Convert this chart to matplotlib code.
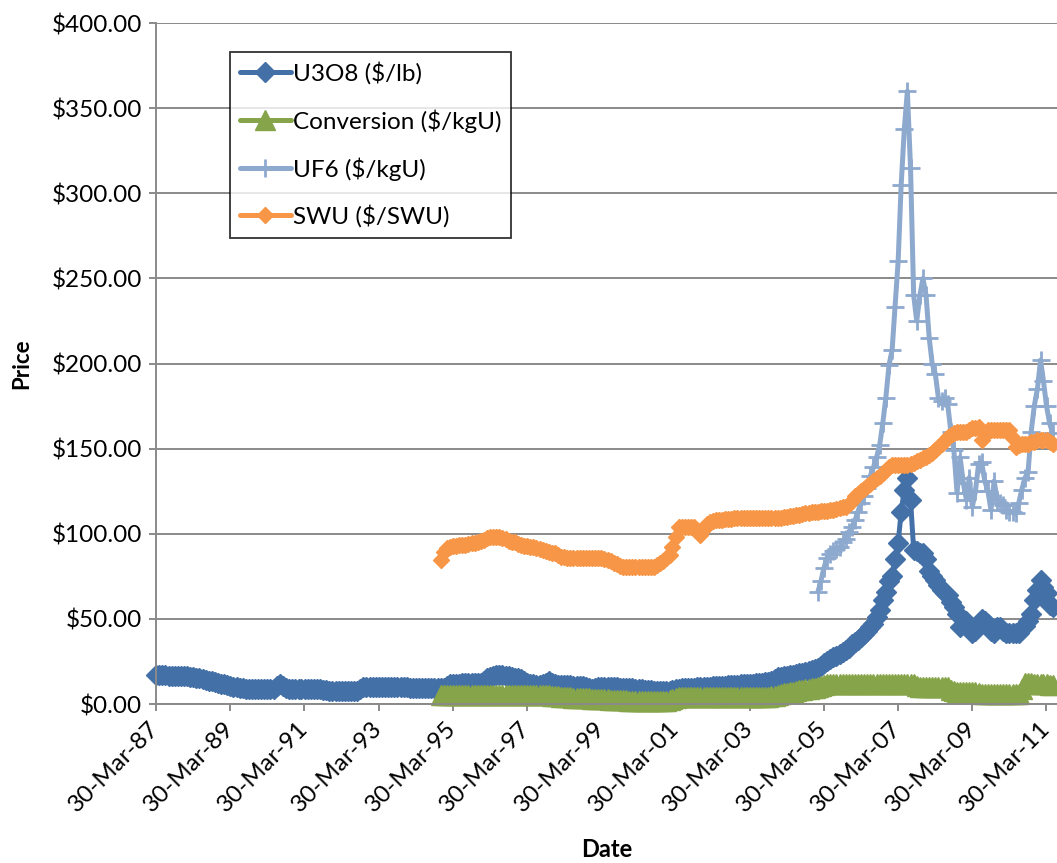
import numpy as np
import pandas as pd
import matplotlib
matplotlib.use("Agg")
import matplotlib.pyplot as plt
import matplotlib.dates as mdates
from matplotlib.ticker import FuncFormatter, MultipleLocator
from matplotlib.transforms import ScaledTranslation

plt.rcParams['font.family'] = ['Lato', 'DejaVu Sans']

# monthly prices, month-end values
u3o8_start = "1987-03-31"
u3o8 = [
    17.0, 17.0, 16.9, 16.8, 16.7, 16.6, 16.6, 16.5, 16.5, 16.4,                    # 1987 (Mar-Dec)
    16.2, 16.0, 15.8, 15.5, 15.2, 14.8, 14.3, 13.8, 13.3, 12.8, 12.4, 12.0,        # 1988
    11.5, 11.0, 10.5, 10.1, 9.8, 9.5, 9.3, 9.1, 9.0, 9.0, 9.0, 9.0,                # 1989
    9.0, 9.0, 9.0, 9.0, 9.1, 10.5, 11.9, 10.5, 9.2, 9.0, 9.0, 9.0,                 # 1990
    9.0, 9.0, 9.0, 9.0, 9.0, 9.0, 9.0, 8.8, 8.5, 8.0, 7.8, 7.8,                    # 1991
    7.8, 7.8, 7.8, 7.8, 7.8, 7.8, 7.8, 7.8, 9.0, 10.0, 10.0, 10.0,                 # 1992
    10.0, 10.1, 10.2, 10.1, 10.0, 10.0, 10.1, 10.2, 10.2, 10.0, 9.9, 9.8,          # 1993
    9.7, 9.6, 9.6, 9.5, 9.5, 9.4, 9.4, 9.3, 9.3, 9.2, 9.2, 9.4,                    # 1994
    10.5, 11.5, 11.9, 12.0, 12.0, 12.1, 12.2, 12.3, 12.4, 12.5, 12.5, 12.6,        # 1995
    13.5, 15.0, 16.0, 16.5, 16.8, 17.0, 17.0, 16.7, 16.3, 15.9, 15.5, 15.1,        # 1996
    14.5, 13.5, 12.5, 12.0, 11.5, 11.2, 11.0, 11.5, 12.5, 13.3, 12.5, 11.8,        # 1997
    11.2, 11.0, 11.0, 11.0, 10.9, 10.8, 10.7, 10.5, 10.3, 10.0, 9.6, 8.6,          # 1998
    9.5, 10.2, 10.2, 10.1, 10.0, 10.0, 9.9, 9.8, 9.7, 9.6, 9.5, 9.4,               # 1999
    9.2, 9.0, 8.8, 8.6, 8.4, 8.2, 8.0, 7.8, 7.6, 7.5, 7.4, 7.5,                    # 2000
    7.8, 8.2, 8.6, 9.0, 9.2, 9.4, 9.5, 9.6, 9.7, 9.8, 9.9, 10.0,                   # 2001
    10.1, 10.2, 10.3, 10.4, 10.5, 10.6, 10.7, 10.9, 11.0, 11.2, 11.4, 11.6,        # 2002
    11.7, 11.8, 11.9, 12.0, 12.2, 12.4, 12.6, 12.8, 13.1, 13.5, 14.5, 15.7,        # 2003
    16.0, 16.3, 16.6, 17.0, 17.3, 17.6, 18.0, 18.5, 19.0, 19.5, 20.0, 20.5,        # 2004
    21.0, 22.5, 24.0, 25.4, 26.5, 27.5, 28.5, 29.5, 30.5, 31.7, 33.0, 35.0,        # 2005
    36.5, 37.6, 39.5, 41.0, 43.0, 45.4, 47.0, 51.0, 55.0, 61.0, 66.0, 72.0,        # 2006
    75.0, 85.0, 94.5, 113.0, 126.0, 133.0, 120.0, 90.5, 90.0, 89.0, 88.5, 85.0,    # 2007
    78.0, 75.0, 73.0, 70.0, 67.0, 65.0, 64.0, 60.0, 57.0, 53.0, 45.0, 50.0,        # 2008
    49.0, 45.0, 42.0, 43.0, 47.0, 50.0, 49.0, 47.0, 43.0, 42.0, 45.0, 45.0,        # 2009
    43.0, 42.0, 41.5, 41.5, 41.5, 42.0, 44.6, 46.0, 49.0, 53.0, 61.0, 67.0,        # 2010
    73.0, 69.0, 65.0, 58.0, 57.0,                                                  # 2011 (Jan-May)
]

conv_start = "1994-11-30"
conversion = [
    5.5, 5.5,                                                                      # 1994 (Nov-Dec)
    5.5, 5.5, 5.5, 5.5, 5.5, 5.5, 5.5, 5.5, 5.5, 5.5, 5.5, 5.5,                    # 1995
    5.5, 5.5, 5.5, 5.5, 5.5, 5.5, 5.5, 5.5, 5.5, 5.5, 5.5, 5.5,                    # 1996
    5.5, 5.5, 5.5, 5.5, 5.5, 5.5, 5.5, 5.5, 5.5, 5.3, 5.0, 4.7,                    # 1997
    4.5, 4.3, 4.1, 4.0, 3.9, 3.8, 3.7, 3.6, 3.5, 3.4, 3.3, 3.2,                    # 1998
    3.1, 3.0, 2.9, 2.8, 2.7, 2.6, 2.5, 2.4, 2.3, 2.2, 2.1, 2.0,                    # 1999
    2.0, 2.0, 2.0, 2.0, 2.0, 2.0, 2.0, 2.0, 2.0, 2.0, 2.0, 2.0,                    # 2000
    2.2, 2.8, 3.5, 4.0, 4.3, 4.3, 4.3, 4.3, 4.3, 4.3, 4.3, 4.3,                    # 2001
    4.3, 4.3, 4.3, 4.3, 4.3, 4.3, 4.3, 4.3, 4.3, 4.3, 4.3, 4.3,                    # 2002
    4.3, 4.3, 4.3, 4.3, 4.3, 4.3, 4.3, 4.3, 4.3, 4.6, 5.0, 5.5,                    # 2003
    6.0, 6.3, 6.6, 7.0, 7.3, 7.6, 8.0, 8.3, 8.6, 9.0, 9.3, 9.6,                    # 2004
    10.0, 10.5, 11.3, 11.5, 11.5, 11.5, 11.5, 11.5, 11.5, 11.5, 11.5, 11.5,        # 2005
    11.5, 11.5, 11.5, 11.5, 11.5, 11.5, 11.5, 11.5, 11.5, 11.5, 11.5, 11.5,        # 2006
    11.5, 11.5, 11.5, 11.5, 11.5, 11.5, 11.5, 11.5, 10.5, 9.8, 9.8, 9.8,           # 2007
    9.8, 9.8, 9.8, 9.8, 9.8, 9.8, 9.8, 8.5, 7.5, 7.3, 7.3, 7.3,                    # 2008
    7.3, 7.3, 7.3, 7.3, 6.5, 6.0, 6.0, 6.0, 6.0, 6.0, 6.0, 6.0,                    # 2009
    6.0, 6.0, 6.0, 6.0, 6.0, 6.0, 9.0, 12.5, 12.5, 12.5, 12.0, 11.8,               # 2010
    11.8, 11.5, 11.5, 11.3, 11.0,                                                  # 2011 (Jan-May)
]

uf6_start = "2005-01-31"
uf6 = [
    66, 72, 80, 86, 88, 90, 91, 92, 95, 97, 101, 104,                              # 2005
    108, 113, 118, 122, 127, 134, 139, 145, 152, 165, 180, 199,                    # 2006
    208, 233, 260, 305, 338, 360, 315, 240, 225, 240, 250, 240,                    # 2007
    215, 200, 194, 180, 178, 180, 176, 160, 149, 124, 145, 130,                    # 2008
    120, 133, 116, 125, 141, 142, 131, 125, 114, 131, 120, 118,                    # 2009
    117, 114, 113, 113, 112, 118, 126, 133, 136, 160, 175, 185,                    # 2010
    202, 190, 175, 165, 159,                                                       # 2011 (Jan-May)
]

swu_start = "1994-11-30"
swu = [
    84.6, 89.5,                                                                    # 1994 (Nov-Dec)
    91.5, 92.4, 92.6, 93.0, 93.2, 93.4, 93.6, 94.0, 94.4, 94.7, 95.0, 95.5,        # 1995
    96.5, 97.5, 97.9, 98.0, 98.0, 97.9, 97.8, 97.0, 96.0, 95.3, 95.0, 94.0,        # 1996
    93.5, 93.0, 92.8, 92.5, 92.0, 91.5, 91.0, 90.5, 89.8, 89.3, 88.9, 88.5,        # 1997
    87.5, 86.5, 86.3, 86.0, 85.8, 85.6, 85.6, 85.6, 85.6, 85.6, 85.6, 85.6,        # 1998
    85.6, 85.6, 85.6, 85.0, 84.5, 83.8, 83.0, 82.0, 81.0, 80.7, 80.7, 80.7,        # 1999
    80.7, 80.7, 80.7, 80.7, 80.7, 80.7, 80.7, 80.7, 81.5, 82.6, 84.0, 85.5,        # 2000
    87.5, 92.4, 98.0, 104.1, 104.1, 104.1, 104.1, 104.1, 104.1, 102.0, 99.3, 103.0,  # 2001
    105.5, 107.0, 107.5, 108.0, 108.0, 108.2, 108.4, 108.6, 108.8, 109.0, 109.0, 109.0,  # 2002
    109.0, 109.0, 109.0, 109.0, 109.0, 109.1, 109.1, 109.2, 109.2, 109.3, 109.3, 109.4,  # 2003
    109.5, 109.8, 110.0, 110.3, 110.6, 111.0, 111.3, 111.6, 112.0, 112.3, 112.6, 112.8,  # 2004
    113.0, 113.2, 113.4, 113.6, 113.9, 114.2, 114.6, 115.0, 115.5, 116.0, 117.5, 119.5,  # 2005
    122.0, 123.5, 125.0, 126.5, 128.0, 129.5, 131.0, 132.5, 134.0, 135.5, 137.5, 139.5,  # 2006
    140.4, 140.4, 140.4, 140.4, 140.4, 140.5, 141.0, 141.5, 142.5, 143.5, 144.3, 145.0,  # 2007
    146.0, 147.5, 149.0, 151.0, 153.0, 155.0, 157.0, 158.0, 159.0, 159.5, 160.0, 160.0,  # 2008
    160.0, 161.0, 162.0, 162.0, 163.0, 155.0, 158.0, 161.0, 161.0, 161.0, 161.0, 161.0,  # 2009
    161.0, 161.0, 161.0, 156.0, 151.0, 152.0, 153.0, 153.0, 153.0, 154.0, 154.0, 155.0,  # 2010
    155.0, 155.0, 155.0, 154.0, 153.0,                                             # 2011 (Jan-May)
]

series_labels = ["U3O8 ($/lb)", "Conversion ($/kgU)", "UF6 ($/kgU)", "SWU ($/SWU)"]
tick_years = list(range(1987, 2012, 2))


def month_ends(start, values):
    return pd.date_range(start, periods=len(values), freq="ME")


fig = plt.figure(figsize=(10.57, 8.63), dpi=100)
ax = fig.add_axes([0.1476, 0.1842, 0.8524, 0.7891])

grid_col = "#8a8a8a"
ax.set_axisbelow(True)
ax.yaxis.grid(True, color=grid_col, linewidth=1.4)

common = dict(linewidth=3.6, solid_joinstyle="round", solid_capstyle="round", clip_on=False)
ax.plot(month_ends(u3o8_start, u3o8), u3o8, color="#4470A8", marker="D", markersize=10.5,
        markeredgewidth=1, label=series_labels[0], **common)
ax.plot(month_ends(conv_start, conversion), conversion, color="#86A44A", marker="^",
        markersize=14, markeredgewidth=1, label=series_labels[1], **common)
ax.plot(month_ends(uf6_start, uf6), uf6, color="#8EA9CE", marker="+", markersize=13,
        markeredgewidth=2, label=series_labels[2], **common)
ax.plot(month_ends(swu_start, swu), swu, color="#F79646", marker="D", markersize=8.5,
        markeredgewidth=1, label=series_labels[3], **common)

ax.set_ylim(0, 400)
ax.yaxis.set_major_locator(MultipleLocator(50))
ax.yaxis.set_major_formatter(FuncFormatter(lambda v, p: "${:,.2f}".format(v)))

ax.set_xlim(pd.Timestamp("1987-03-30"), pd.Timestamp("2011-07-12"))
ticks = [pd.Timestamp(f"{y}-03-30") for y in tick_years]
ax.set_xticks(ticks)
ax.xaxis.set_major_formatter(mdates.DateFormatter("%d-%b-%y"))
# nudge the slanted date labels a little right and down of each tick
nudge = ScaledTranslation(0.06, -0.05, fig.dpi_scale_trans)
for lbl in ax.get_xticklabels():
    lbl.set_rotation(45)
    lbl.set_ha("right")
    lbl.set_va("center")
    lbl.set_rotation_mode("anchor")
    lbl.set_transform(lbl.get_transform() + nudge)

for side in ["top", "right"]:
    ax.spines[side].set_visible(False)
for side in ["left", "bottom"]:
    ax.spines[side].set_color(grid_col)
    ax.spines[side].set_linewidth(1.4)
ax.tick_params(axis="both", colors=grid_col, width=1.4, length=5, labelsize=17.5,
               labelcolor="black")
ax.tick_params(axis="x", pad=10)
ax.tick_params(axis="y", pad=5)

ax.set_ylabel("Price", fontsize=16, fontweight="bold", labelpad=14)
ax.set_xlabel("Date", fontsize=17, fontweight="bold", labelpad=16)

leg = ax.legend(loc="upper left", bbox_to_anchor=(0.082, 0.957), fontsize=17.5,
                frameon=True, fancybox=False, edgecolor="black", handlelength=2.1,
                handletextpad=0.1, labelspacing=1.0, borderpad=0.4, borderaxespad=0)
leg.get_frame().set_linewidth(1.3)

fig.savefig("out.png", dpi=100)
